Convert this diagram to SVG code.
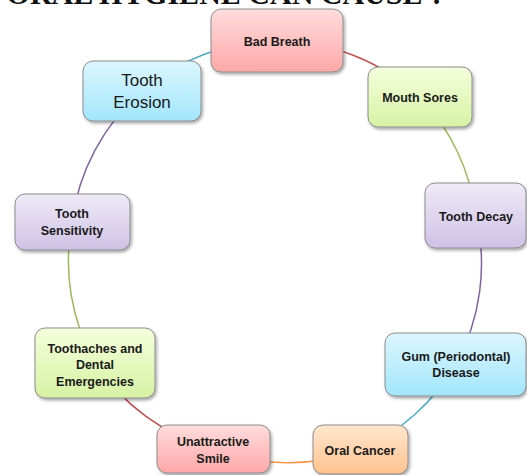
<svg xmlns="http://www.w3.org/2000/svg" width="527" height="475" viewBox="0 0 527 475">
<defs>
<linearGradient id="gPink" x1="0" y1="0" x2="0" y2="1"><stop offset="0" stop-color="#ffdcdc"/><stop offset="1" stop-color="#ffa8a8"/></linearGradient>
<linearGradient id="gGreen" x1="0" y1="0" x2="0" y2="1"><stop offset="0" stop-color="#f4ffdc"/><stop offset="1" stop-color="#d6f2a4"/></linearGradient>
<linearGradient id="gPurple" x1="0" y1="0" x2="0" y2="1"><stop offset="0" stop-color="#efeaf7"/><stop offset="1" stop-color="#cfc2e6"/></linearGradient>
<linearGradient id="gCyan" x1="0" y1="0" x2="0" y2="1"><stop offset="0" stop-color="#dcf6ff"/><stop offset="1" stop-color="#a2e6fb"/></linearGradient>
<linearGradient id="gOrange" x1="0" y1="0" x2="0" y2="1"><stop offset="0" stop-color="#ffe6cf"/><stop offset="1" stop-color="#ffc38e"/></linearGradient>
<filter id="sh" x="-10%" y="-10%" width="125%" height="130%"><feDropShadow dx="1.5" dy="2" stdDeviation="1.5" flood-color="#000" flood-opacity="0.35"/></filter>
</defs>
<style>
.box{stroke:#8c8c8c;stroke-width:1;filter:url(#sh)}
.t{font-family:"Liberation Sans",Arial,sans-serif;font-weight:bold;font-size:12.5px;fill:#1a1a1a;text-anchor:middle}
.tl{font-family:"Liberation Sans",Arial,sans-serif;font-size:17px;fill:#1a1a1a;text-anchor:middle}
.c{fill:none;stroke-width:1.5}
.title{font-family:"Liberation Serif","Times New Roman",serif;font-weight:bold;font-size:30px;fill:#111;text-anchor:end}
</style>
<text class="title" x="445" y="4">ORAL HYGIENE CAN CAUSE ?</text>
<g id="connectors">
<path class="c" stroke="#c0504d" d="M277 41 A210 210 0 0 1 420 97"/>
<path class="c" stroke="#9bbb59" d="M420 97 A210 210 0 0 1 476 216"/>
<path class="c" stroke="#8064a2" d="M476 216 A210 210 0 0 1 456 364"/>
<path class="c" stroke="#4bacc6" d="M456 364 A210 210 0 0 1 360 450"/>
<path class="c" stroke="#f79646" d="M360 450 A210 210 0 0 1 213 449"/>
<path class="c" stroke="#c0504d" d="M213 449 A210 210 0 0 1 95 363"/>
<path class="c" stroke="#9bbb59" d="M95 363 A210 210 0 0 1 72 222"/>
<path class="c" stroke="#8064a2" d="M72 222 A210 210 0 0 1 142 91"/>
<path class="c" stroke="#4bacc6" d="M142 91 A210 210 0 0 1 277 41"/>
</g>
<g id="bad-breath"><rect class="box" x="211" y="9" width="132" height="63" rx="10" fill="url(#gPink)"/><text class="t" x="277" y="45.5">Bad Breath</text></g>
<g id="mouth-sores"><rect class="box" x="368" y="67" width="104" height="60" rx="10" fill="url(#gGreen)"/><text class="t" x="420" y="101.5">Mouth Sores</text></g>
<g id="tooth-decay"><rect class="box" x="425" y="183" width="101" height="65" rx="10" fill="url(#gPurple)"/><text class="t" x="476" y="220.5">Tooth Decay</text></g>
<g id="gum-disease"><rect class="box" x="385" y="333" width="141" height="63" rx="10" fill="url(#gCyan)"/><text class="t" x="456" y="360.5">Gum (Periodontal)</text><text class="t" x="456" y="376.5">Disease</text></g>
<g id="oral-cancer"><rect class="box" x="313" y="425" width="95" height="49" rx="10" fill="url(#gOrange)"/><text class="t" x="360" y="454.5">Oral Cancer</text></g>
<g id="unattractive-smile"><rect class="box" x="157" y="425" width="113" height="48" rx="10" fill="url(#gPink)"/><text class="t" x="213" y="445.5">Unattractive</text><text class="t" x="213" y="462.5">Smile</text></g>
<g id="toothaches"><rect class="box" x="35" y="328" width="120" height="70" rx="10" fill="url(#gGreen)"/><text class="t" x="95" y="352.5">Toothaches and</text><text class="t" x="95" y="368.5">Dental</text><text class="t" x="95" y="385.5">Emergencies</text></g>
<g id="tooth-sensitivity"><rect class="box" x="15" y="194" width="115" height="56" rx="10" fill="url(#gPurple)"/><text class="t" x="72" y="217.5">Tooth</text><text class="t" x="72" y="234.5">Sensitivity</text></g>
<g id="tooth-erosion"><rect class="box" x="83" y="61" width="118" height="60" rx="10" fill="url(#gCyan)"/><text class="tl" x="142" y="86">Tooth</text><text class="tl" x="142" y="108">Erosion</text></g>
</svg>
